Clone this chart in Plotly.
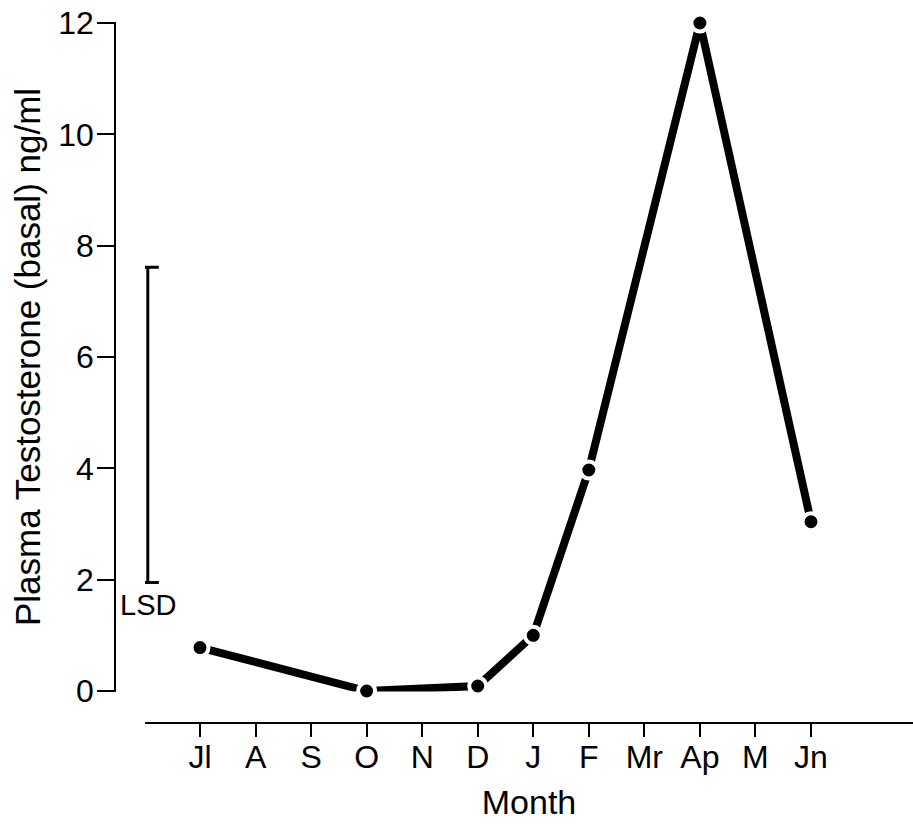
import plotly.graph_objects as go

# ---- data ----
month_labels = ["Jl", "A", "S", "O", "N", "D", "J", "F", "Mr", "Ap", "M", "Jn"]
month_index = list(range(len(month_labels)))
sample_x = [0, 3, 5, 6, 7, 9, 11]          # Jl, O, D, J, F, Ap, Jn
testosterone = [0.78, 0.0, 0.09, 1.0, 3.97, 12.0, 3.04]
y_ticks = [0, 2, 4, 6, 8, 10, 12]
lsd_x = -0.94
lsd_low = 1.95
lsd_high = 7.61

W, H = 913, 826
FONT = "Liberation Sans, Arial, Helvetica, sans-serif"

fig = go.Figure()

# LSD bar
lsd_mid = (lsd_low + lsd_high) / 2
fig.add_trace(go.Scatter(
    x=[lsd_x], y=[lsd_mid], mode="markers",
    marker=dict(size=1, color="rgba(0,0,0,0)"),
    error_y=dict(type="data", symmetric=True, array=[(lsd_high - lsd_low) / 2],
                 color="black", thickness=3, width=11),
    cliponaxis=False, showlegend=False, hoverinfo="skip",
))

# main series
fig.add_trace(go.Scatter(
    x=sample_x, y=testosterone, mode="lines+markers",
    line=dict(color="black", width=8),
    marker=dict(size=17, color="black", line=dict(color="white", width=4)),
    cliponaxis=False, showlegend=False,
))

fig.add_annotation(x=lsd_x, y=1.545, xref="x", yref="y", text="LSD",
                   showarrow=False, font=dict(family=FONT, size=29, color="black"),
                   xanchor="center", yanchor="middle")

# pixel geometry
x_left_px, x0_px, x11_px = 145, 200, 811
ppu_x = (x11_px - x0_px) / 11
x_range = [(x_left_px - x0_px) / ppu_x, (W - x0_px) / ppu_x]
y0_px, y12_px = 691, 23
xaxis_px = 722.5
yaxis_px = 115
eps = 0.01
ppu_y = (y0_px - y12_px) / 12

fig.update_layout(
    width=W, height=H,
    margin=dict(l=0, r=0, t=0, b=0, autoexpand=False),
    paper_bgcolor="white", plot_bgcolor="white",
    font=dict(family=FONT, color="black"),
    xaxis=dict(
        domain=[x_left_px / W, 1], range=x_range,
        anchor="free", position=(H - xaxis_px) / H,
        showline=True, linecolor="black", linewidth=1.5,
        ticks="outside", ticklen=14, tickwidth=1.5, tickcolor="black",
        tickvals=month_index, ticktext=month_labels,
        tickfont=dict(size=32, family=FONT), ticklabelstandoff=-8,
        showgrid=False, zeroline=False, automargin=False,
        title=dict(text="Month", font=dict(size=34, family=FONT), standoff=16),
    ),
    yaxis=dict(
        domain=[(H - y0_px - eps * ppu_y) / H, (H - y12_px + eps * ppu_y) / H],
        range=[-eps, 12 + eps],
        anchor="free", position=yaxis_px / W,
        showline=True, linecolor="black", linewidth=1.5,
        ticks="outside", ticklen=17, tickwidth=1.5, tickcolor="black",
        tickvals=y_ticks, tickfont=dict(size=32, family=FONT), ticklabelstandoff=-3,
        ticklabeloverflow="allow",
        showgrid=False, zeroline=False, automargin=False,
        title=dict(text="Plasma Testosterone (basal) ng/ml",
                   font=dict(size=35, family=FONT), standoff=6),
    ),
)

fig.write_html("out.html",
               config={"displayModeBar": False},
               post_script="document.body.style.margin='0';document.body.style.overflow='hidden';")
